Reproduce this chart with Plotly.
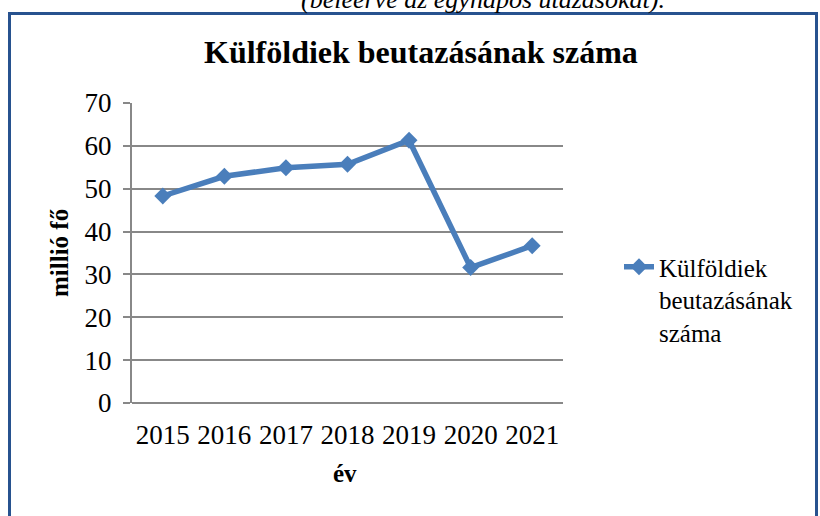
import plotly.graph_objects as go

years = ["2015", "2016", "2017", "2018", "2019", "2020", "2021"]
visitors = [48.3, 52.9, 54.9, 55.7, 61.3, 31.6, 36.7]
y_ticks = [0, 10, 20, 30, 40, 50, 60, 70]

series_name = "Külföldiek<br>beutazásának<br>száma"
title_text = "Külföldiek beutazásának száma"
x_title = "év"
y_title = "millió fő"
top_note = "(beleérve az egynapos utazásokat)."

W, H = 820, 516
L, R, T, B = 132, 563, 103, 403
pw, ph = R - L, B - T

def px(x):
    return (x - L) / pw

def py(y):
    return (B - y) / ph

SERIF = "Liberation Serif"
BLUE = "#4A7EBB"
GRID = "#888888"

fig = go.Figure()
fig.add_trace(go.Scatter(
    x=years, y=visitors, mode="lines+markers", name=series_name,
    line=dict(color=BLUE, width=5.5),
    marker=dict(symbol="diamond", size=13, color=BLUE),
))

fig.update_layout(
    width=W, height=H,
    margin=dict(l=L, r=W - R, t=T, b=H - B),
    paper_bgcolor="white", plot_bgcolor="white",
    font=dict(family=SERIF, size=25, color="black"),
    showlegend=True,
    legend=dict(x=px(619), y=py(244), xanchor="left", yanchor="top",
                valign="top", font=dict(size=25, family=SERIF),
                itemwidth=30, bgcolor="rgba(0,0,0,0)", tracegroupgap=0),
    xaxis=dict(type="category", range=[-0.5, 6.5], showgrid=False,
               showline=False, zeroline=False,
               ticks="outside", ticklen=8, tickcolor="rgba(0,0,0,0)",
               tickfont=dict(size=27, family=SERIF)),
    yaxis=dict(range=[0, 70], tickvals=y_ticks, showgrid=True,
               gridcolor=GRID, gridwidth=1.5, zeroline=False,
               showline=True, linecolor=GRID, linewidth=2,
               ticks="outside", ticklen=7, tickcolor=GRID, tickwidth=1.5,
               ticklabelstandoff=6,
               tickfont=dict(size=27, family=SERIF)),
)

# x-axis baseline
fig.add_shape(type="line", xref="paper", yref="paper", x0=0, x1=1, y0=0, y1=0,
              line=dict(color=GRID, width=2), layer="below")

# frame border
fig.add_shape(type="rect", xref="paper", yref="paper",
              x0=px(9.5), x1=px(816.5), y0=py(13.5), y1=py(540),
              line=dict(color="#27528F", width=3))

ann = dict(xref="paper", yref="paper", showarrow=False,
           xanchor="center", yanchor="middle")
fig.add_annotation(text=f"<b>{title_text}</b>", x=px(421), y=py(52),
                   font=dict(size=32, family=SERIF), **ann)
fig.add_annotation(text=f"<i>{top_note}</i>", x=px(483), y=py(-1),
                   font=dict(size=26, family=SERIF), **ann)
fig.add_annotation(text=f"<b>{x_title}</b>", x=px(345), y=py(473),
                   font=dict(size=25, family=SERIF), **ann)
fig.add_annotation(text=f"<b>{y_title}</b>", x=px(59), y=py(253),
                   textangle=-90, font=dict(size=25, family=SERIF), **ann)

fig.write_html("out.html", config={"displayModeBar": False},
               post_script="document.body.style.margin='0';document.body.style.padding='0';")
